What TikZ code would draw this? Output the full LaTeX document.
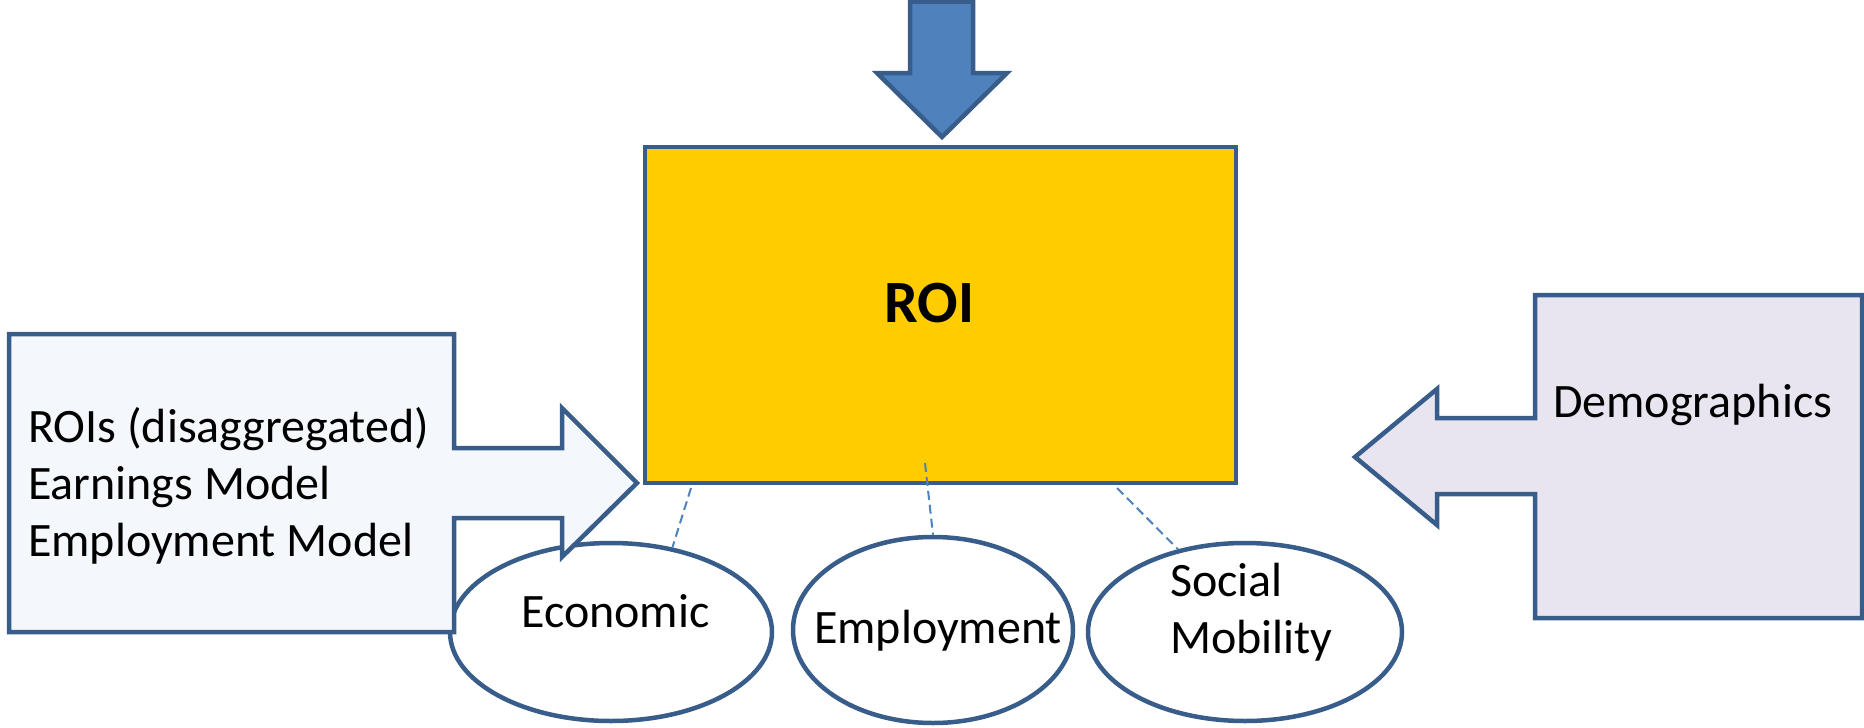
\documentclass[tikz,border=0pt]{standalone}
\usepackage{fontspec}
\setmainfont{Carlito}
\usetikzlibrary{shapes.geometric}

\definecolor{edgeblue}{RGB}{56,93,138}
\definecolor{linkblue}{RGB}{79,129,189}
\definecolor{topblue}{RGB}{79,129,189}
\definecolor{roigold}{RGB}{255,204,0}
\definecolor{modelfill}{RGB}{244,247,251}
\definecolor{demofill}{RGB}{232,229,240}

\begin{document}
\begin{tikzpicture}[x=1pt,y=-1pt,
  outline/.style={draw=edgeblue, line width=4.5pt, line join=miter},
  bubble/.style={ellipse, outline, fill=white, inner sep=0pt},
  link/.style={draw=linkblue, line width=2pt, dash pattern=on 9pt off 5pt},
  txt/.style={inner sep=0pt, text=black, font=\fontsize{48}{57}\selectfont},
  bigtxt/.style={inner sep=0pt, text=black, font=\fontsize{60}{72}\selectfont\bfseries}
]
\useasboundingbox (0,0) rectangle (1864,728);

% central ROI box
\node[rectangle, outline, fill=roigold, minimum width=591pt, minimum height=336pt,
      inner sep=0pt] (roi) at (940.5,315) {};
\node[bigtxt, anchor=base] (roitext) at (929.5,322) {ROI};

% arrow pointing down into the ROI box
\draw[outline, fill=topblue]
  (910,1.5) -- (973,1.5) -- (973,73) -- (1007,73) -- (942,137)
  -- (877,73) -- (910,73) -- cycle;

% three outcome ellipses
\node[bubble, minimum width=322pt, minimum height=178pt] (econ) at (611,632) {};
\node[bubble, minimum width=280pt, minimum height=186pt] (emp) at (933,630) {};
\node[bubble, minimum width=314pt, minimum height=178pt] (soc) at (1245,632) {};

% left block arrow: models feeding the ROI
\draw[outline, fill=modelfill]
  (9,334) -- (454,334) -- (454,448) -- (562,448) -- (562,408) -- (637,483)
  -- (562,557) -- (562,518) -- (454,518) -- (454,632) -- (9,632) -- cycle;

% right block arrow: demographics
\draw[outline, fill=demofill]
  (1862,295) -- (1535,295) -- (1535,418) -- (1437,418) -- (1437,389)
  -- (1355,457) -- (1437,525) -- (1437,494) -- (1535,494) -- (1535,618)
  -- (1862,618) -- cycle;

% dashed links from the ROI box to the outcomes
\coordinate (l1) at (691,488);
\coordinate (l2) at (925,463);
\coordinate (l3) at (1117,488);
\draw[link] (l1) -- (econ.54.5);
\draw[link] (l2) -- (emp.north);
\draw[link] (l3) -- (soc.129.3);

% texts
\node[txt, anchor=base west] (m1) at (28,442) {ROIs (disaggregated)};
\node[txt, anchor=base west] (m2) at (28,499) {Earnings Model};
\node[txt, anchor=base west] (m3) at (28,556) {Employment Model};
\node[txt, anchor=base west] (demotext) at (1553,417) {Demographics};
\node[txt, anchor=base] (econtext) at (615.5,627) {Economic};
\node[txt, anchor=base] (emptext) at (938,643) {Employment};
\node[txt, anchor=base west] (soctext1) at (1170,596) {Social};
\node[txt, anchor=base west] (soctext2) at (1170,653) {Mobility};
\end{tikzpicture}
\end{document}
